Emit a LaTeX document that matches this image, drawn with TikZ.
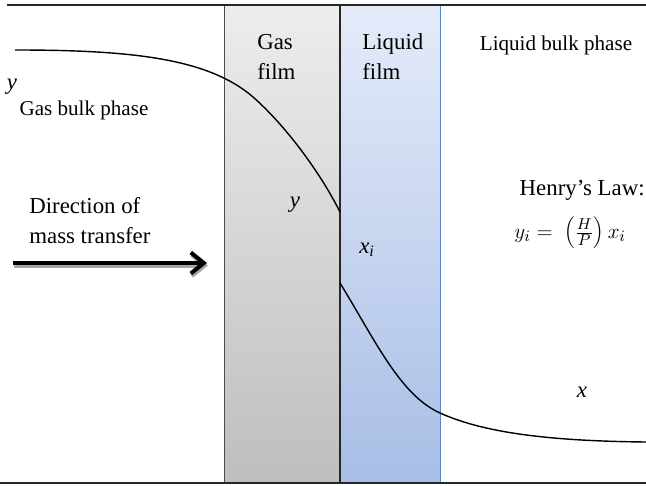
\documentclass[tikz,border=0pt]{standalone}
\usepackage{fontspec}
\setmainfont{Liberation Serif}
\usetikzlibrary{positioning, arrows.meta}
\definecolor{gastop}{RGB}{237,237,237}
\definecolor{gasbot}{RGB}{190,190,190}
\definecolor{liqtop}{RGB}{229,235,249}
\definecolor{liqbot}{RGB}{168,190,230}
\definecolor{liqedge}{RGB}{86,134,204}

\begin{document}
\begin{tikzpicture}[
  x=0.02cm, y=-0.02cm,
  lbl/.style={inner sep=0pt, align=left, font=\fontsize{13}{17}\selectfont},
  sml/.style={inner sep=0pt, font=\fontsize{12}{14}\selectfont},
  var/.style={inner sep=0pt, font=\fontsize{13}{15}\selectfont\itshape},
  wall/.style={line width=1.6pt, black!85},
  profile/.style={thick, black},
  flow/.style={-{Straight Barb[length=2.6mm, width=4.2mm]}, line width=2.3pt},
]
\useasboundingbox (0,0) rectangle (646,486);
% films
\shade[top color=gastop, bottom color=gasbot] (224,5) rectangle (340,483);
\shade[top color=liqtop, bottom color=liqbot] (340,5) rectangle (440,483);
\draw[black!70, thin] (224,5) -- (224,483);
\draw[black!85, line width=1.1pt] (340,5) -- (340,483);
\draw[liqedge, thin] (440,5) -- (440,483);
% walls
\draw[wall] (7,5) -- (646,5);
\draw[wall] (0,483) -- (646,483);
% labels
\node[lbl, anchor=west] (gasfilm) at (257,57) {Gas\\film};
\node[lbl, anchor=west] (liqfilm) at (362,57) {Liquid\\film};
\node[sml] (liqbulk) at (556,45) {Liquid bulk phase};
\node[var] (ygas) at (12,87) {y};
\node[sml] (gasbulk) at (84,110) {Gas bulk phase};
\node[lbl, anchor=west] (direction) at (29,221) {Direction of\\mass transfer};
\node[var] (yint) at (295,205) {y};
\node[var] (xint) at (367,250) {x\textsubscript{\itshape i}};
\node[lbl, anchor=east] (henry) at (645,190) {Henry’s Law:};
\node[inner sep=0pt, anchor=west, font=\fontsize{13}{15}\selectfont] (law) at (514,233)
  {$y_i = \ \left(\frac{H}{P}\right)x_i$};
\node[var] (xliq) at (582,392) {x};
% concentration profile
\draw[profile] (15,50) .. controls (130,50) and (208,58) .. (253,97)
  .. controls (285,125) and (320,172) .. (340,212);
\draw[profile] (340,283) .. controls (375,340) and (400,395) .. (440,413)
  .. controls (480,431) and (540,441) .. (646,442);
% direction arrow
\coordinate (tail) at (13,263);
\coordinate (head) at (207,263);
\draw[flow, black!35] ([shift={(1,2.5)}]tail) -- ([shift={(1,2.5)}]head);
\draw[flow] (tail) -- (head);
\end{tikzpicture}
\end{document}
